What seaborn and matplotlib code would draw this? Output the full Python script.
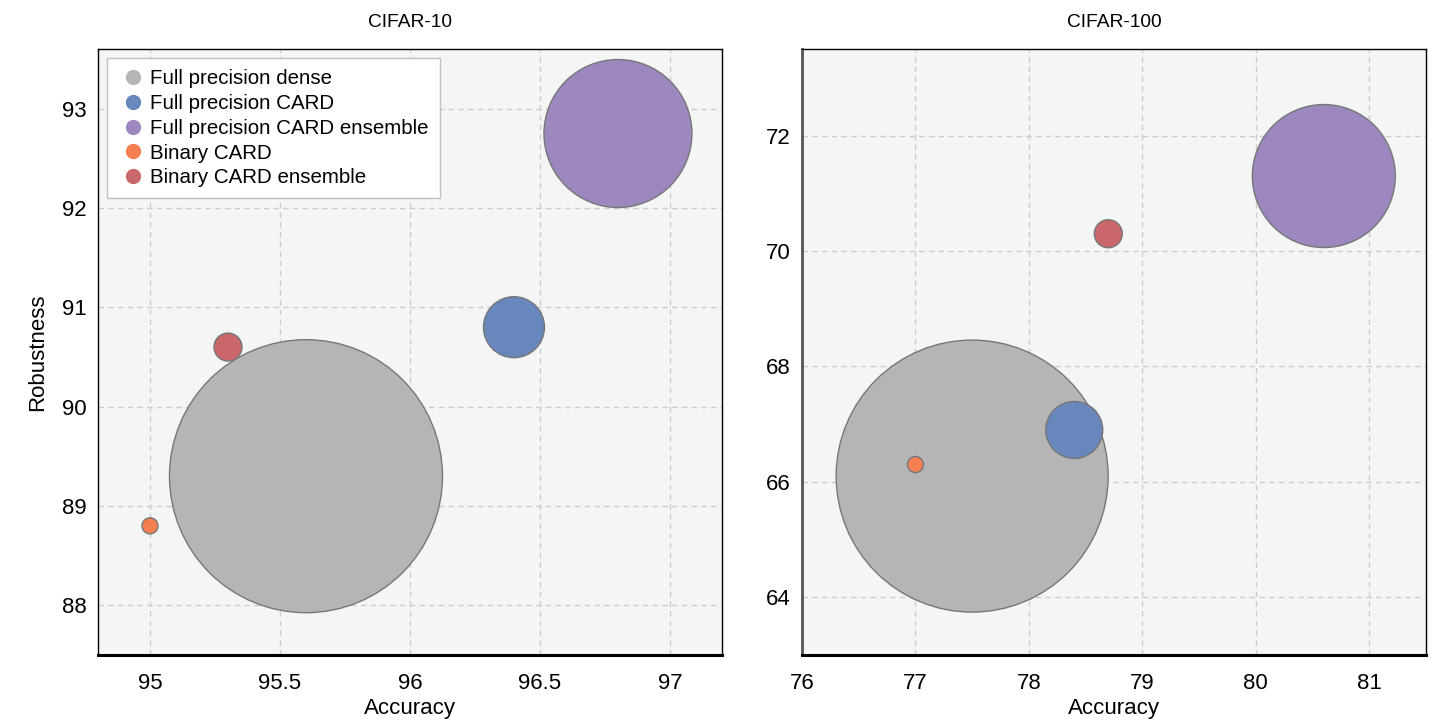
import matplotlib
matplotlib.use("Agg")
import matplotlib.pyplot as plt
import pandas as pd
import seaborn as sns
from matplotlib.lines import Line2D

# модели и цвета
models = ["Full precision dense", "Full precision CARD", "Full precision CARD ensemble",
          "Binary CARD", "Binary CARD ensemble"]
colors = ["#b4b5b4", "#6787bd", "#9d87bf", "#f57f51", "#c9676a"]

# CIFAR-10
c10_acc = [95.6, 96.4, 96.8, 95.0, 95.3]
c10_rob = [89.3, 90.8, 92.75, 88.8, 90.6]
c10_diam = [273, 61, 148, 16, 28]  # диаметр пузыря в пикселях

# CIFAR-100
c100_acc = [77.5, 78.4, 80.6, 77.0, 78.7]
c100_rob = [66.1, 66.9, 71.3, 66.3, 70.3]
c100_diam = [272, 57, 143, 16, 28]

DPI = 100

sns.set_style("whitegrid")
plt.rcParams['font.family'] = ['Liberation Sans', 'DejaVu Sans']
plt.rcParams['text.color'] = 'black'
plt.rcParams['axes.labelcolor'] = 'black'
plt.rcParams['xtick.color'] = 'black'
plt.rcParams['ytick.color'] = 'black'

fig = plt.figure(figsize=(14.37, 7.23), dpi=DPI)
ax1 = fig.add_axes([0.0682, 0.0941, 0.4342, 0.838])
ax2 = fig.add_axes([0.5581, 0.0941, 0.4342, 0.838])

panels = [
    (ax1, "CIFAR-10", c10_acc, c10_rob, c10_diam, (94.8, 97.2), (87.5, 93.6),
     [95, 95.5, 96, 96.5, 97], ["95", "95.5", "96", "96.5", "97"], [88, 89, 90, 91, 92, 93]),
    (ax2, "CIFAR-100", c100_acc, c100_rob, c100_diam, (76, 81.5), (63, 73.5),
     [76, 77, 78, 79, 80, 81], ["76", "77", "78", "79", "80", "81"], [64, 66, 68, 70, 72]),
]

for ax, title, acc, rob, diam, xlim, ylim, xt, xtl, yt in panels:
    df = pd.DataFrame({"model": models, "acc": acc, "rob": rob,
                       "area": [(d * 72 / DPI) ** 2 for d in diam]})
    sns.scatterplot(data=df, x="acc", y="rob", hue="model", palette=colors,
                    size="area", sizes={a: a for a in df["area"]},
                    edgecolor="#777777", linewidth=1, alpha=1, legend=False,
                    ax=ax, zorder=3)
    ax.set_facecolor("#f4f6f5")
    ax.set_xlim(*xlim)
    ax.set_ylim(*ylim)
    ax.set_xticks(xt)
    ax.set_xticklabels(xtl)
    ax.set_yticks(yt)
    ax.grid(True, linestyle=(0, (4, 3)), color="#cccccc", linewidth=1)
    ax.tick_params(length=0, labelsize=16)
    ax.tick_params(axis="x", pad=13)
    ax.tick_params(axis="y", pad=8)
    ax.set_xlabel("Accuracy", fontsize=16, labelpad=3)
    ax.set_ylabel("")
    ax.set_title(title, fontsize=13.8, pad=16)
    for s in ax.spines.values():
        s.set_color("black")
        s.set_linewidth(1)
    ax.spines["bottom"].set_linewidth(2.2)

ax2.spines["left"].set_color("#555555")
ax2.spines["left"].set_linewidth(2)
ax1.set_ylabel("Robustness", fontsize=16, labelpad=10)

handles = [Line2D([], [], marker="o", linestyle="", markersize=11,
                  markerfacecolor=c, markeredgewidth=0) for c in colors]
leg = ax1.legend(handles, models, loc="upper left", fontsize=14.8, frameon=True,
                 fancybox=False, edgecolor="#c0c0c0", framealpha=1,
                 handletextpad=0.1, labelspacing=0.28, borderpad=0.53,
                 handlelength=1.46, borderaxespad=0.45)
leg.get_frame().set_linewidth(1)

fig.savefig("out.png", dpi=DPI)
